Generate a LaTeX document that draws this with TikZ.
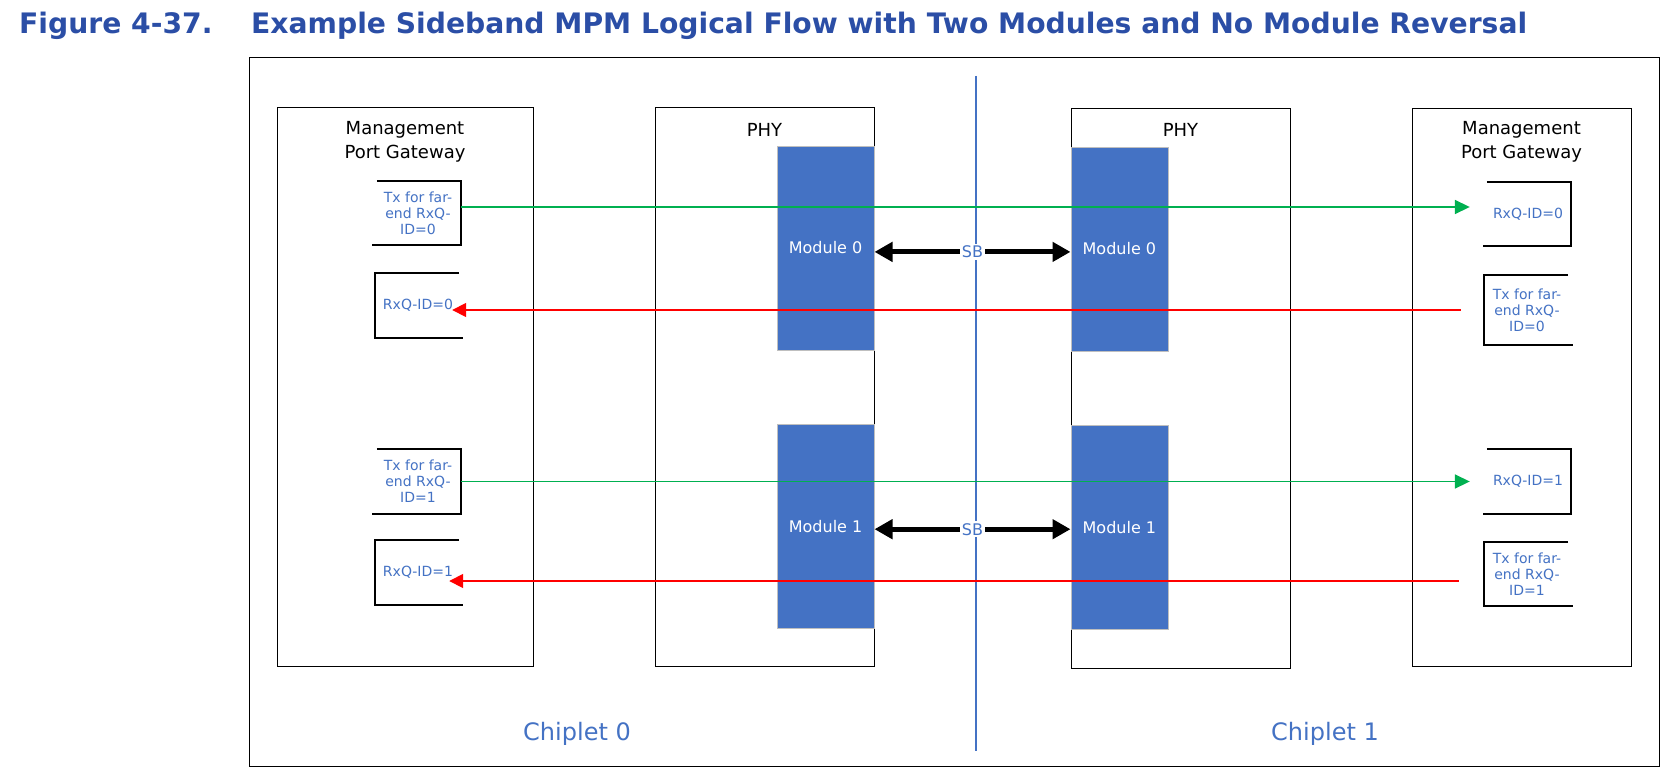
\documentclass[tikz,border=0pt]{standalone}
\usepackage{fontspec}
\setmainfont{DejaVu Sans}
\usepackage{tikz}
\usepackage{xcolor}
\usetikzlibrary{arrows.meta,positioning}
\definecolor{modblue}{RGB}{68,114,196}
\definecolor{titleblue}{RGB}{43,78,166}
\definecolor{fwdgreen}{RGB}{0,176,80}
\tikzset{
    %Define style for the big blocks
    blockbox/.style={
           rectangle,
           draw=black, line width=1pt,
           minimum width=219pt,
           minimum height=559pt},
    mpgbox/.style={
           blockbox,
           minimum width=256pt},
    %Define style for the module blocks
    moduleblock/.style={
           rectangle,
           draw=black!25, line width=0.8pt,
           fill=modblue,
           minimum width=97pt,
           minimum height=204pt,
           text=white,
           font=\fontsize{16}{19}\selectfont},
    %Define style for the queue boxes
    queuebox/.style={
           rectangle,
           inner sep=0pt,
           minimum width=86pt,
           minimum height=64pt,
           align=center,
           text=modblue,
           font=\fontsize{14}{16}\selectfont},
    bracket/.style={draw=black, line width=1.8pt},
    blocklabel/.style={anchor=north, inner sep=0pt, align=center, font=\fontsize{18}{24}\selectfont},
    chipletlabel/.style={anchor=base, inner sep=0pt, text=modblue, font=\fontsize{24}{29}\selectfont},
    titlelabel/.style={anchor=base west, inner sep=0pt, text=titleblue, font=\fontsize{28.2}{34}\selectfont\bfseries},
    sblink/.style={draw=black, line width=5pt, {Triangle[length=18pt,width=19pt]}-{Triangle[length=18pt,width=19pt]}},
    sblabel/.style={fill=white, inner sep=2pt, text=modblue, font=\fontsize{16}{19}\selectfont},
    txflow/.style={draw=fwdgreen, line width=1.7pt, -{Triangle[length=15pt,width=14pt]}},
    rxflow/.style={draw=red, line width=1.7pt, -{Triangle[length=14pt,width=14pt]}},
    divider/.style={draw=modblue, line width=1.4pt}
}
\def\moduletop{39pt}
\def\modulegap{74pt}

\begin{document}
\begin{tikzpicture}[x=1pt, y=-1pt]
\fill[white] (0,0) rectangle (1676,784);
\useasboundingbox (0,0) rectangle (1676,784);
\node[titlelabel] (fignum) at (19,33.5) {Figure 4-37.};
\node[titlelabel] (figtitle) at (251,33.5) {Example Sideband MPM Logical Flow with Two Modules and No Module Reversal};
\node[draw=black, line width=1pt, minimum width=1410pt, minimum height=708pt] (frame) at (954,412) {};
\coordinate (divtop) at (976,76);
\coordinate (divbot) at (976,751);
\draw[divider] (divtop) -- (divbot);
\node[mpgbox] (mpgL) at (405,386.5) {};
\node[blockbox] (phyL) at (764.5,386.5) {};
\node[blockbox, minimum height=560pt] (phyR) at (1180.5,388) {};
\node[blockbox, minimum height=558pt] (mpgR) at (1521.5,387) {};
\node[blocklabel] (mpgLtext) at ([yshift=-14.5pt]mpgL.north) {Management\\Port Gateway};
\node[blocklabel] (mpgRtext) at ([yshift=-13.5pt]mpgR.north) {Management\\Port Gateway};
\node[blocklabel] (phyLtext) at ([yshift=-16.5pt]phyL.north) {PHY};
\node[blocklabel] (phyRtext) at ([yshift=-15.5pt]phyR.north) {PHY};
\node[moduleblock, anchor=north east] (modL0) at ([yshift=-\moduletop]phyL.north east) {Module 0};
\node[moduleblock, below=\modulegap of modL0] (modL1) {Module 1};
\node[moduleblock, anchor=north west] (modR0) at ([yshift=-\moduletop]phyR.north west) {Module 0};
\node[moduleblock, below=\modulegap of modR0] (modR1) {Module 1};
%queue boxes on chiplet 0
\node[queuebox] (txL0) at (418,213) {Tx for far-\\end RxQ-\\ID=0};
\node[queuebox] (rxL0) at (418,305.5) {RxQ-ID=0};
\node[queuebox] (txL1) at (418,481.5) {Tx for far-\\end RxQ-\\ID=1};
\node[queuebox] (rxL1) at (418,572.5) {RxQ-ID=1};
%queue boxes on chiplet 1
\node[queuebox] (rxR0) at (1528,214) {RxQ-ID=0};
\node[queuebox, minimum height=70pt] (txR0) at (1527,310) {Tx for far-\\end RxQ-\\ID=0};
\node[queuebox] (rxR1) at (1528,481.5) {RxQ-ID=1};
\node[queuebox] (txR1) at (1527,574) {Tx for far-\\end RxQ-\\ID=1};
\draw[bracket] ([xshift=2pt]txL0.north west) -- (txL0.north east) -- (txL0.south east) -- ([xshift=-3pt]txL0.south west);
\draw[bracket] ([xshift=-2pt]rxL0.north east) -- (rxL0.north west) -- (rxL0.south west) -- ([xshift=2pt]rxL0.south east);
\draw[bracket] ([xshift=2pt]txL1.north west) -- (txL1.north east) -- (txL1.south east) -- ([xshift=-3pt]txL1.south west);
\draw[bracket] ([xshift=-2pt]rxL1.north east) -- (rxL1.north west) -- (rxL1.south west) -- ([xshift=2pt]rxL1.south east);
\draw[bracket] ([xshift=2pt]rxR0.north west) -- (rxR0.north east) -- (rxR0.south east) -- ([xshift=-2pt]rxR0.south west);
\draw[bracket] ([xshift=-2pt]txR0.north east) -- (txR0.north west) -- (txR0.south west) -- ([xshift=3pt]txR0.south east);
\draw[bracket] ([xshift=2pt]rxR1.north west) -- (rxR1.north east) -- (rxR1.south east) -- ([xshift=-2pt]rxR1.south west);
\draw[bracket] ([xshift=-2pt]txR1.north east) -- (txR1.north west) -- (txR1.south west) -- ([xshift=3pt]txR1.south east);
%message flows
\draw[txflow, shorten >=15pt] ([yshift=6pt]txL0.east) -- ([yshift=6pt]txL0.east -| rxR0.west);
\draw[rxflow, shorten <=23pt, shorten >=-9pt] (txR0.west) -- (txR0.west -| rxL0.east);
\draw[txflow, shorten >=15pt] (txL1.east) -- (txL1.east -| rxR1.west);
\draw[rxflow, shorten <=25pt, shorten >=-12pt] ([yshift=-7pt]txR1.west) -- ([yshift=-7pt]txR1.west -| rxL1.east);
%sideband links
\draw[sblink] ([yshift=-4pt]modL0.east) -- ([yshift=-4pt]modL0.east -| modR0.west) node[sblabel, midway] (sb0) {SB};
\draw[sblink] ([yshift=-2.5pt]modL1.east) -- ([yshift=-2.5pt]modL1.east -| modR1.west) node[sblabel, midway] (sb1) {SB};
\node[chipletlabel] (chip0) at (577,740) {Chiplet 0};
\node[chipletlabel] (chip1) at (1325,740) {Chiplet 1};
\end{tikzpicture}
\end{document}
